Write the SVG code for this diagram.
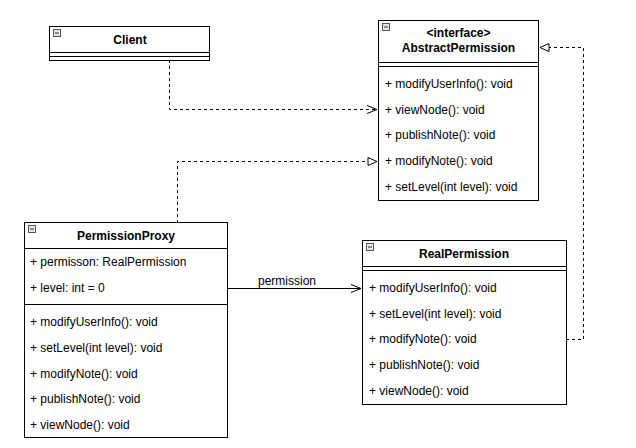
<svg xmlns="http://www.w3.org/2000/svg" width="636" height="448" viewBox="0 0 636 448">
<defs>
<style>
.box{fill:#fff;stroke:#000;stroke-width:1}
.ln{stroke:#000;stroke-width:1;fill:none}
.t{font-family:"Liberation Sans",Arial,sans-serif;font-size:12px;fill:#000}
.b{font-weight:bold;text-anchor:middle}
.ico{fill:#e6e6e6;stroke:#555;stroke-width:1}
.dash{stroke:#000;stroke-width:1;fill:none;stroke-dasharray:3,3}
</style>
<marker id="open" viewBox="0 0 10 10" refX="10" refY="5" markerWidth="10" markerHeight="10" markerUnits="userSpaceOnUse" orient="auto">
<path d="M0,1 L10,5 L0,9" fill="none" stroke="#000" stroke-width="1"/>
</marker>
<marker id="tri" viewBox="0 0 10 10" refX="10" refY="5" markerWidth="10" markerHeight="10" markerUnits="userSpaceOnUse" orient="auto">
<path d="M1,1 L10,5 L1,9 Z" fill="#fff" stroke="#000" stroke-width="1"/>
</marker>
<g id="icon"><rect x="0.5" y="0.5" width="7" height="7" class="ico"/><line x1="2" y1="4" x2="6" y2="4" stroke="#333" stroke-width="1"/></g>
</defs>
<rect width="636" height="448" fill="#fff"/>

<g id="connectors">
<path class="dash" d="M169.5,60 V109.5 H377" marker-end="url(#open)"/>
<path class="dash" d="M177.5,223 V161.5 H377" marker-end="url(#tri)"/>
<path class="ln" d="M227,288.5 H361" marker-end="url(#open)"/>
<text class="t" x="258" y="285">permission</text>
<path class="dash" d="M566,339.5 H583.5 V47.5 H540" marker-end="url(#tri)"/>
</g>

<g id="Client">
<rect class="box" x="49.5" y="26.5" width="160" height="34"/>
<line class="ln" x1="49.5" y1="52.5" x2="209.5" y2="52.5"/>
<line class="ln" x1="49.5" y1="56.5" x2="209.5" y2="56.5"/>
<use href="#icon" x="53" y="29"/>
<text class="t b" x="130" y="44">Client</text>
</g>

<g id="AbstractPermission">
<rect class="box" x="378.5" y="20.5" width="160" height="180"/>
<line class="ln" x1="378.5" y1="62.5" x2="538.5" y2="62.5"/>
<line class="ln" x1="378.5" y1="66.5" x2="538.5" y2="66.5"/>
<use href="#icon" x="382" y="23"/>
<text class="t b" x="458.5" y="37">&lt;interface&gt;</text>
<text class="t b" x="458.5" y="52">AbstractPermission</text>
<text class="t" x="385" y="88">+ modifyUserInfo(): void</text>
<text class="t" x="385" y="114">+ viewNode(): void</text>
<text class="t" x="385" y="139">+ publishNote(): void</text>
<text class="t" x="385" y="165">+ modifyNote(): void</text>
<text class="t" x="385" y="191">+ setLevel(int level): void</text>
</g>

<g id="PermissionProxy">
<rect class="box" x="24.5" y="222.5" width="203" height="215"/>
<line class="ln" x1="24.5" y1="248.5" x2="227.5" y2="248.5"/>
<line class="ln" x1="24.5" y1="304.5" x2="227.5" y2="304.5"/>
<use href="#icon" x="28" y="225"/>
<text class="t b" x="126" y="240">PermissionProxy</text>
<text class="t" x="30" y="266">+ permisson: RealPermission</text>
<text class="t" x="30" y="292">+ level: int = 0</text>
<text class="t" x="30" y="326">+ modifyUserInfo(): void</text>
<text class="t" x="30" y="352">+ setLevel(int level): void</text>
<text class="t" x="30" y="378">+ modifyNote(): void</text>
<text class="t" x="30" y="403">+ publishNote(): void</text>
<text class="t" x="30" y="429">+ viewNode(): void</text>
</g>

<g id="RealPermission">
<rect class="box" x="362.5" y="240.5" width="204" height="164"/>
<line class="ln" x1="362.5" y1="266.5" x2="566.5" y2="266.5"/>
<line class="ln" x1="362.5" y1="270.5" x2="566.5" y2="270.5"/>
<use href="#icon" x="366" y="243"/>
<text class="t b" x="464" y="258">RealPermission</text>
<text class="t" x="369" y="292">+ modifyUserInfo(): void</text>
<text class="t" x="369" y="318">+ setLevel(int level): void</text>
<text class="t" x="369" y="343">+ modifyNote(): void</text>
<text class="t" x="369" y="369">+ publishNote(): void</text>
<text class="t" x="369" y="395">+ viewNode(): void</text>
</g>
</svg>
